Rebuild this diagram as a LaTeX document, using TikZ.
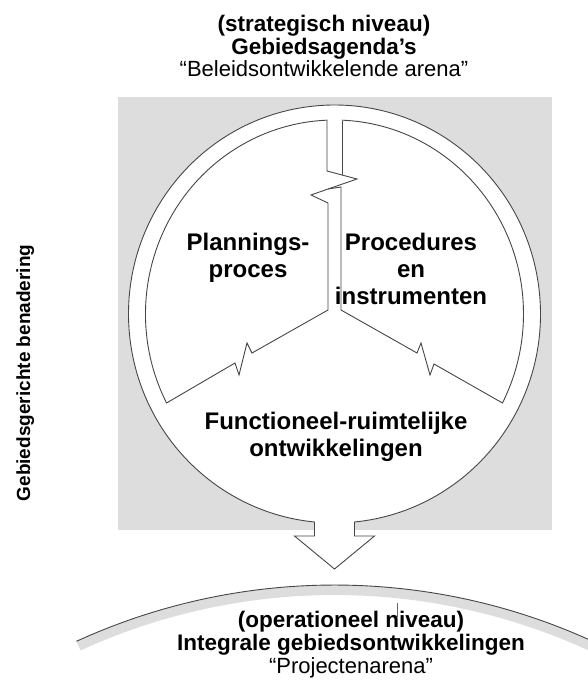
\documentclass[tikz,border=0pt]{standalone}
\usepackage{fontspec}
\setmainfont{Liberation Sans}
\definecolor{panelgrey}{RGB}{221,221,221}
\definecolor{inkline}{RGB}{70,70,70}
\tikzset{
  outline/.style={draw=inkline, line width=0.9pt, line join=miter},
  titlebold/.style={anchor=base, inner sep=0pt, font=\fontsize{22.5}{23}\selectfont\bfseries},
  titleplain/.style={anchor=base, inner sep=0pt, font=\fontsize{22}{23}\selectfont},
  sectorlabel/.style={anchor=base, inner sep=0pt, font=\fontsize{24}{27}\selectfont\bfseries},
}
\begin{document}
\begin{tikzpicture}[x=1pt,y=-1pt]
\useasboundingbox (0,0) rectangle (587,682);

% centre of the round shape
\coordinate (C) at (334.5,314);

% grey panel behind the circle
\fill[panelgrey] (118,97) rectangle (552,530);

% circle merged with the downward arrow
\path[outline, fill=white]
  (C) ++(84.43:206 and 209)
  arc[start angle=84.43, end angle=-264.43, x radius=206, y radius=209]
  -- (314.5,536) -- (294.5,536) -- (334.5,569) -- (374.5,536) -- (354.5,536) -- cycle;

% left sector: inner ring, stem with break, diagonal with break
\draw[outline]
  (C) ++(152.7:189 and 194)
  arc[start angle=152.7, end angle=267.73, x radius=189, y radius=194]
  -- (327,171) -- (357,179) -- (328,189) -- (311,195) -- (328,203) -- (328,310)
  -- (252,353) -- (247,343) -- (239,375) -- (235,363) -- cycle;

% right sector
\draw[outline] (342,175) -- (342,121);
\draw[outline]
  (C) ++(272.27:189 and 194)
  arc[start angle=272.27, end angle=387.3, x radius=189, y radius=194]
  -- (434,364) -- (430,375) -- (421,343) -- (417,353) -- (341,310) -- (341,187) -- (328,189);

% lower arena: curved band
\coordinate (A) at (334.5,1205);
\fill[panelgrey] (A) ++(245.4:620) arc[start angle=245.4, end angle=296, radius=620]
  -- ++(116:10) arc[start angle=296, end angle=245.4, radius=610] -- cycle;
\draw[outline] (A) ++(245.4:620) arc[start angle=245.4, end angle=296, radius=620];
\draw[draw=black!60, line width=0.5pt] (397,603) -- (397,617);

% titles
\node[titlebold]  (t1) at (324,32) {(strategisch niveau)};
\node[titlebold]  (t2) at (324,55) {Gebiedsagenda’s};
\node[titleplain] (t3) at (324,77) {“Beleidsontwikkelende arena”};

\node[titlebold]  (b1) at (351,627) {(operationeel niveau)};
\node[titlebold]  (b2) at (351,650) {Integrale gebiedsontwikkelingen};
\node[titleplain] (b3) at (351,673) {“Projectenarena”};

\node[anchor=base, inner sep=0pt, rotate=90, font=\fontsize{19}{21}\selectfont\bfseries]
  (side) at (30,373) {Gebiedsgerichte benadering};

% sector labels
\node[sectorlabel] (p1) at (248,250) {Plannings-};
\node[sectorlabel] (p2) at (248,277) {proces};
\node[sectorlabel] (q1) at (411,250) {Procedures};
\node[sectorlabel] (q2) at (411,277) {en};
\node[sectorlabel] (q3) at (411,304) {instrumenten};
\node[sectorlabel] (f1) at (336,429) {Functioneel-ruimtelijke};
\node[sectorlabel] (f2) at (336,456) {ontwikkelingen};
\end{tikzpicture}
\end{document}
